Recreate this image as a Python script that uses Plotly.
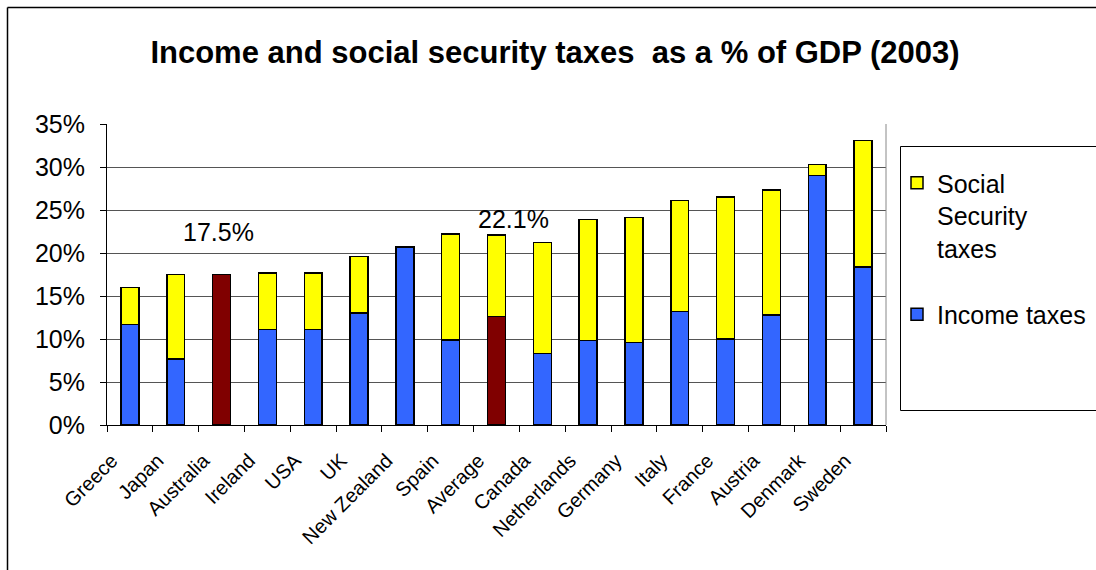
import plotly.graph_objects as go

countries = ["Greece", "Japan", "Australia", "Ireland", "USA", "UK", "New Zealand",
             "Spain", "Average", "Canada", "Netherlands", "Germany", "Italy", "France",
             "Austria", "Denmark", "Sweden"]
income_taxes = [11.7, 7.7, 17.5, 11.1, 11.1, 13.0, 20.7, 9.9, 12.6, 8.3, 9.8, 9.6,
                13.2, 10.0, 12.8, 29.0, 18.4]
total_taxes = [16.0, 17.5, 17.5, 17.7, 17.7, 19.6, 20.7, 22.2, 22.1, 21.2, 23.9, 24.1,
               26.1, 26.5, 27.3, 30.3, 33.1]
social_security = [round(t - i, 2) for t, i in zip(total_taxes, income_taxes)]
highlighted = ["Australia", "Average"]
labels = [("Australia", 22.4, "17.5%"), ("Average", 23.9, "22.1%")]

BLUE, YELLOW, RED = "#3366FF", "#FFFF00", "#800000"
FONT = "Liberation Sans, Arial, sans-serif"

# figure geometry in pixels
W, H = 1096, 570
PL, PR, PT, PB = 107, 886, 124, 425
pw, ph = PR - PL, PB - PT
def px(x):
    return (x - PL) / pw
def py(y):
    return (PB - y) / ph

fig = go.Figure()
fig.add_trace(go.Bar(
    x=countries, y=income_taxes, name="Income taxes",
    marker=dict(color=[RED if c in highlighted else BLUE for c in countries],
                line=dict(color="black", width=1.5)),
    legendgroup="inc", legendrank=2,
))
fig.add_trace(go.Bar(
    x=countries, y=social_security, name="Social<br>Security<br>taxes",
    marker=dict(color=YELLOW, line=dict(color="black", width=1.5)),
    legendgroup="ss", legendrank=1,
))

for c, yv, txt in labels:
    fig.add_annotation(x=c, y=yv, text=txt, showarrow=False,
                       font=dict(family=FONT, size=25, color="black"),
                       xanchor="center", yanchor="middle",
                       xshift=17 if c == "Average" else -3)

shapes = [
    # outer chart frame (left and top edges)
    dict(type="line", xref="paper", yref="paper", x0=px(7.5), x1=px(W + 20),
         y0=py(7.5), y1=py(7.5), line=dict(color="black", width=1.5)),
    dict(type="line", xref="paper", yref="paper", x0=px(7.5), x1=px(7.5),
         y0=py(7.5), y1=py(H + 20), line=dict(color="black", width=1.5)),
    # plot area right border
    dict(type="line", xref="paper", yref="paper", x0=1, x1=1, y0=0, y1=1,
         line=dict(color="#888888", width=1)),
    # legend box
    dict(type="rect", xref="paper", yref="paper", x0=px(900.5), x1=px(W + 30),
         y0=py(410.5), y1=py(146.5), line=dict(color="black", width=1)),
]

fig.update_layout(
    width=W, height=H,
    margin=dict(l=PL, r=W - PR, t=PT, b=H - PB, pad=0, autoexpand=False),
    paper_bgcolor="white", plot_bgcolor="white",
    barmode="stack", bargap=0.61,
    title=dict(text="<b>Income and social security taxes  as a % of GDP (2003)</b>",
               xref="container", x=555 / W, xanchor="center",
               yref="container", y=1 - 52 / H, yanchor="middle",
               font=dict(family=FONT, size=31, color="black")),
    font=dict(family=FONT, color="black"),
    showlegend=True,
    legend=dict(x=px(897), xanchor="left", y=py(160), yanchor="top",
                traceorder="grouped", tracegroupgap=31,
                font=dict(family=FONT, size=25, color="black"),
                bgcolor="rgba(0,0,0,0)", borderwidth=0, valign="top"),
    shapes=shapes,
    xaxis=dict(type="category", tickangle=-45, tickson="boundaries",
               ticks="outside", ticklen=6, tickcolor="black",
               showline=True, linecolor="black", linewidth=1,
               ticklabelshift=-18, ticklabelstandoff=15,
               showgrid=False, tickfont=dict(family=FONT, size=20, color="black"),
               range=[-0.5, len(countries) - 0.5]),
    yaxis=dict(range=[0, 35], dtick=5, ticksuffix="%", ticks="outside", ticklen=6,
               tickcolor="black", showline=True, linecolor="black", linewidth=1,
               showgrid=True, gridcolor="#555555", gridwidth=1, zeroline=False,
               ticklabelstandoff=10,
               tickfont=dict(family=FONT, size=25, color="black")),
)

fig.write_html("out.html")
